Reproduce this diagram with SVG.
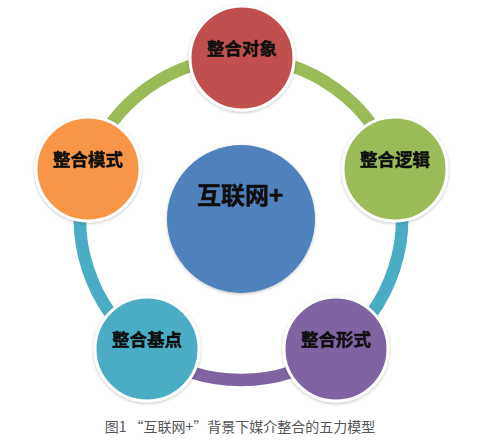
<svg xmlns="http://www.w3.org/2000/svg" width="485" height="444" viewBox="0 0 485 444">
<defs>
<style>
.node{stroke:#fff;stroke-width:3}
.lbl{font-family:"Noto Sans CJK SC","Noto Sans",sans-serif;font-weight:bold;font-size:17.5px;fill:#111;stroke:#111;stroke-width:0.5;text-anchor:middle}
.arc{fill:none;stroke-width:12.5}
.cap{font-family:"Noto Sans CJK SC","Noto Sans",sans-serif;font-size:14px;fill:#555;text-anchor:middle}
</style>
<filter id="sh" x="-20%" y="-20%" width="140%" height="140%">
<feDropShadow dx="0" dy="1" stdDeviation="1.5" flood-color="#000" flood-opacity="0.25"/>
</filter>
</defs>
<rect width="485" height="444" fill="#fff"/>
<g id="connectors">
<path class="arc" stroke="#9BBB59" d="M241,58 A161,161 0 0 1 394.1,169.2"/>
<path class="arc" stroke="#4BACC6" d="M394.1,169.2 A161,161 0 0 1 335.6,349.3"/>
<path class="arc" stroke="#8064A2" d="M335.6,349.3 A161,161 0 0 1 146.4,349.3"/>
<path class="arc" stroke="#4BACC6" d="M146.4,349.3 A161,161 0 0 1 87.9,169.2"/>
<path class="arc" stroke="#9BBB59" d="M87.9,169.2 A161,161 0 0 1 241,58"/>
</g>
<g id="center" filter="url(#sh)">
<circle cx="241" cy="219" r="74" fill="#4F81BD"/>
<text x="240" y="204" class="lbl" style="font-size:24px">互联网+</text>
</g>
<g id="n-top" filter="url(#sh)">
<circle class="node" cx="242" cy="58" r="52" fill="#C0504D"/>
<text x="242" y="55" class="lbl">整合对象</text>
</g>
<g id="n-right" filter="url(#sh)">
<circle class="node" cx="395" cy="169" r="52" fill="#9BBB59"/>
<text x="395" y="166" class="lbl">整合逻辑</text>
</g>
<g id="n-bottomright" filter="url(#sh)">
<circle class="node" cx="336" cy="349" r="52" fill="#8064A2"/>
<text x="336" y="346" class="lbl">整合形式</text>
</g>
<g id="n-bottomleft" filter="url(#sh)">
<circle class="node" cx="147" cy="349" r="52" fill="#4BACC6"/>
<text x="147" y="346" class="lbl">整合基点</text>
</g>
<g id="n-left" filter="url(#sh)">
<circle class="node" cx="88" cy="169" r="52" fill="#F79646"/>
<text x="88" y="166" class="lbl">整合模式</text>
</g>
<text x="240" y="432" class="cap">图1 “互联网+”背景下媒介整合的五力模型</text>
</svg>
